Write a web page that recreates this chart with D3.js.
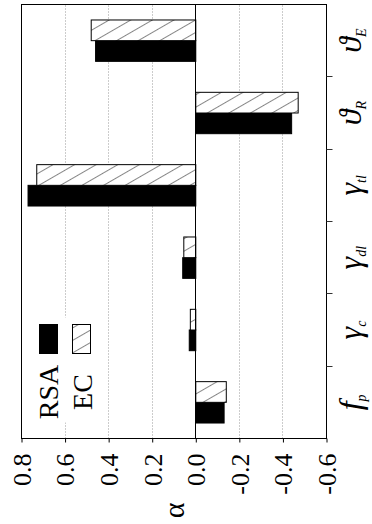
<!DOCTYPE html>
<html>
<head>
<meta charset="utf-8">
<script src="https://cdn.jsdelivr.net/npm/d3@7"></script>
<style>
body { margin: 0; background: #fff; }
svg { display: block; font-family: "Liberation Serif", "DejaVu Serif", serif; }
svg text { font-family: "Liberation Serif", "DejaVu Serif", serif; }
</style>
</head>
<body>
<script>
// data
const categories = ["f_p", "γ_c", "γ_dl", "γ_tl", "ϑ_R", "ϑ_E"];
const rsaValues = [-0.13, 0.03, 0.06, 0.77, -0.44, 0.46];
const ecValues = [-0.14, 0.025, 0.055, 0.73, -0.47, 0.48];
const valueTicks = [0.8, 0.6, 0.4, 0.2, 0.0, -0.2, -0.4, -0.6];
const tickLabels = ["0.8", "0.6", "0.4", "0.2", "0.0", "-0.2", "-0.4", "-0.6"];
const seriesNames = ["RSA", "EC"];
const axisTitle = "α";

// chart is drawn upright, then the whole group turned 90deg
const W = 434, H = 305;

const svg = d3.select("body").append("svg")
    .attr("width", 372)
    .attr("height", 524);

const pat = svg.append("defs").append("pattern")
    .attr("id", "hatch")
    .attr("patternUnits", "userSpaceOnUse")
    .attr("width", 10.8)
    .attr("height", 10.8)
    .attr("patternTransform", "rotate(-30)");
pat.append("rect").attr("width", 10.8).attr("height", 10.8).attr("fill", "#fff");
pat.append("line")
    .attr("x1", 5.4).attr("x2", 5.4)
    .attr("y1", 0).attr("y2", 10.8)
    .attr("stroke", "#666")
    .attr("stroke-width", 0.8);

const g = svg.append("g")
    .attr("transform", "translate(21.5,438.5) rotate(-90)");

let x = d3.scaleBand()
    .domain(categories)
    .range([0, W]);
let y = d3.scaleLinear()
    .domain([-0.6, 0.8])
    .range([H, 0]);

// dotted grid
g.selectAll(".grid")
    .data(valueTicks.filter(v => v !== 0 && v !== 0.8 && v !== -0.6))
    .enter().append("line")
    .attr("class", "grid")
    .attr("x1", 0).attr("x2", W)
    .attr("y1", d => Math.round(y(d)))
    .attr("y2", d => Math.round(y(d)))
    .attr("stroke", "#999")
    .attr("stroke-width", 1)
    .attr("stroke-dasharray", "1,2");

// legend background
g.append("rect")
    .attr("x", 16).attr("y", 1)
    .attr("width", 105).attr("height", 79)
    .attr("fill", "#fff");

const bw = x.bandwidth() * 0.286;
const off = (x.bandwidth() - 2 * bw) / 2;

function bars(values, shift, fill) {
    g.selectAll(null)
        .data(values)
        .enter().append("rect")
        .attr("x", (d, i) => x(categories[i]) + off + shift)
        .attr("width", bw)
        .attr("y", d => Math.min(y(d), y(0)))
        .attr("height", d => Math.abs(y(d) - y(0)))
        .attr("fill", fill)
        .attr("stroke", "#000")
        .attr("stroke-width", 1);
}
bars(rsaValues, 0, "#000");
bars(ecValues, bw, "url(#hatch)");

// zero line
g.append("line")
    .attr("x1", 0).attr("x2", W)
    .attr("y1", Math.round(y(0))).attr("y2", Math.round(y(0)))
    .attr("stroke", "#000");

// frame
g.append("rect")
    .attr("width", W).attr("height", H)
    .attr("fill", "none")
    .attr("stroke", "#000");

// value axis
const yAxis = g.append("g")
    .call(d3.axisLeft(y)
        .tickValues(valueTicks)
        .tickFormat((d, i) => tickLabels[i])
        .tickSize(4)
        .tickPadding(11));
yAxis.attr("font-family", null).attr("font-size", null);
yAxis.select(".domain").remove();
yAxis.selectAll("text")
    .attr("font-size", 26)
    .attr("dy", "0.34em")
    .attr("fill", "#000");

// category ticks sit on band edges
g.selectAll(".ctick")
    .data(categories.slice(1))
    .enter().append("line")
    .attr("class", "ctick")
    .attr("x1", d => Math.round(x(d))).attr("x2", d => Math.round(x(d)))
    .attr("y1", H).attr("y2", H + 6)
    .attr("stroke", "#333");

const lab = g.selectAll(".clab")
    .data(categories)
    .enter().append("text")
    .attr("class", "clab")
    .attr("x", d => x(d) + x.bandwidth() / 2)
    .attr("y", H + 34)
    .attr("text-anchor", "middle")
    .attr("font-style", "italic")
    .attr("font-size", 32);
lab.append("tspan").text(d => d.split("_")[0]);
lab.append("tspan")
    .attr("font-size", 14)
    .attr("dy", 5)
    .text(d => d.split("_")[1]);

// legend
const fills = ["#000", "url(#hatch)"];
seriesNames.forEach((name, i) => {
    g.append("rect")
        .attr("x", 85).attr("y", 18 + i * 33)
        .attr("width", 29).attr("height", 18)
        .attr("fill", fills[i])
        .attr("stroke", "#000");
    g.append("text")
        .attr("x", 46.5).attr("y", 36 + i * 34)
        .attr("text-anchor", "middle")
        .attr("font-size", 28)
        .text(name);
});

g.append("text")
    .attr("x", -72).attr("y", 162)
    .attr("text-anchor", "middle")
    .attr("font-size", 30)
    .text(axisTitle);
</script>
</body>
</html>
